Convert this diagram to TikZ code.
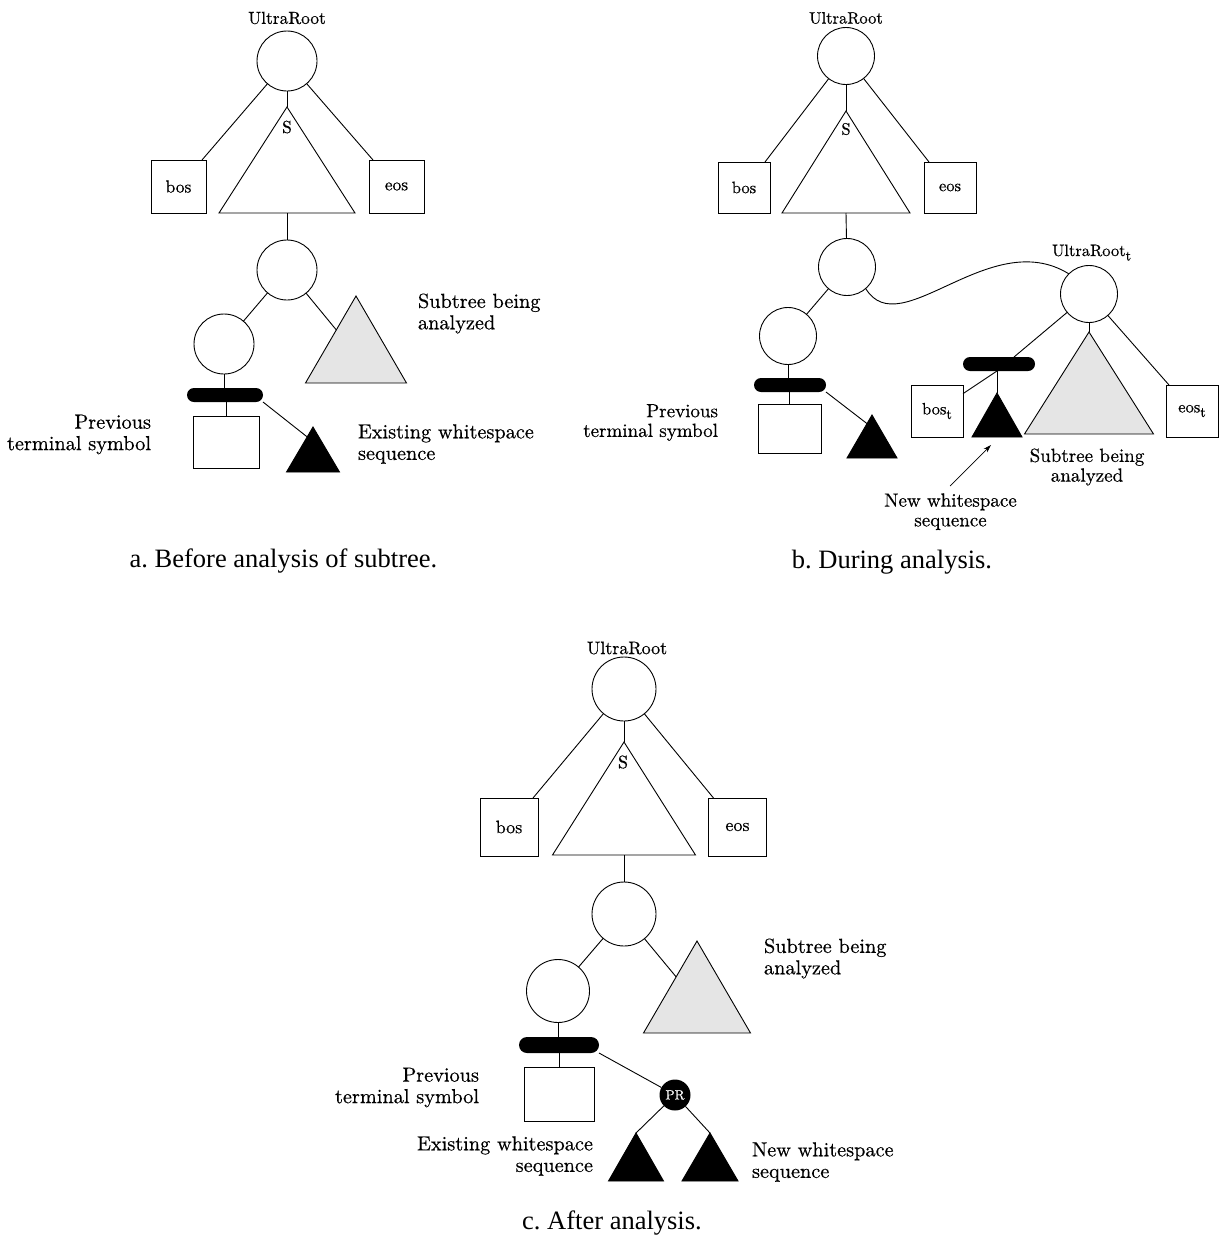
\documentclass[tikz,border=0pt]{standalone}
\usepackage{fontspec}
\newfontfamily\capfont{Liberation Serif}
\newfontfamily\lblfont{lmroman10-regular}[Extension=.otf,FakeBold=0.5]
\usetikzlibrary{calc,arrows.meta}

% triangle with named apex (-a), base corners (-l, -r) and base centre (-b)
\newcommand{\drawtri}[6]{%
  \coordinate (#1-a) at (#2,#3);
  \coordinate (#1-l) at ($(#1-a)+(-#4,#5)$);
  \coordinate (#1-r) at ($(#1-a)+(#4,#5)$);
  \coordinate (#1-b) at ($(#1-l)!.5!(#1-r)$);
  \draw[#6] (#1-a) -- (#1-l) -- (#1-r) -- cycle;}
% lowered subscript t in the label font
\newcommand{\subt}{\raisebox{-4.5pt}{\fontsize{14}{14}\selectfont t}}

\definecolor{subgray}{HTML}{E5E5E5}

\begin{document}
\begin{tikzpicture}[x=1pt,y=-1pt,line width=0.9pt,
  every node/.style={inner sep=0pt,outer sep=0pt},
  vtx/.style={circle,draw,minimum size=#1},
  termbox/.style args={#1x#2}{rectangle,draw,minimum width=#1,minimum height=#2},
  wsbar/.style args={#1x#2}{rectangle,fill=black,minimum width=#1,minimum height=#2,rounded corners=#2/2},
  lblA/.style={font=\lblfont\fontsize{20.3}{21.5}\selectfont},
  lblB/.style={font=\lblfont\fontsize{19}{19.7}\selectfont},
  smA/.style={font=\lblfont\fontsize{17.4}{18}\selectfont},
  smB/.style={font=\lblfont\fontsize{16.5}{17}\selectfont},
  smC/.style={font=\lblfont\fontsize{18}{18.5}\selectfont},
  capt/.style={font=\capfont\fontsize{26.5}{28}\selectfont},
  prnode/.style={circle,fill=black,minimum size=31pt,text=white,font=\lblfont\fontsize{13.5}{13.5}\selectfont}]

\useasboundingbox (0,0) rectangle (1222,1237);

% ---------------- a. before analysis ----------------
\node[vtx=60pt] (a-root) at (287,61) {};
\node[smA] (a-ur) at (287,18) {UltraRoot};
\drawtri{a-s}{287}{107}{68}{106}{}
\node[smA] (a-slab) at (287,127) {S};
\node[termbox=55ptx53pt,smA] (a-bos) at (178.5,186.5) {bos};
\node[termbox=55ptx53pt,smA] (a-eos) at (396.5,186.5) {eos};
\node[vtx=60pt] (a-n1) at (287,270) {};
\node[vtx=60pt] (a-n2) at (224,344) {};
\drawtri{a-sub}{356}{296}{50.5}{87}{fill=subgray}
\node[wsbar=76ptx14pt] (a-bar) at (225,395) {};
\node[termbox=66ptx52pt] (a-prev) at (226,442) {};
\drawtri{a-ws}{313}{427}{26.5}{45}{fill=black}

\draw (a-root) -- (a-s-a);
\draw (a-root) -- ($(a-bos.north east)+(-4,0)$);
\draw (a-root) -- ($(a-eos.north west)+(4,0)$);
\draw (a-s-b) -- (a-n1);
\draw (a-n1) -- (a-n2);
\draw (a-n1) -- ($(a-sub-a)!.39!(a-sub-l)$);
\draw (a-n2) -- (a-n2 |- a-bar.north);
\draw (a-bar.south -| a-prev) -- (a-prev);
\draw (a-bar.south east) -- ($(a-ws-a)!.22!(a-ws-l)$);

\node[lblA,anchor=west,align=left] (a-sublab) at (418,313.5) {Subtree being\\analyzed};
\node[lblA,anchor=west,align=left] (a-wslab) at (358,444) {Existing whitespace\\sequence};
\node[lblA,anchor=east,align=right] (a-prevlab) at (151,434.5) {Previous\\terminal symbol};
\node[capt] (a-cap) at (283.5,561) {a.\ Before analysis of subtree.};

% ---------------- b. during analysis ----------------
\node[vtx=57pt] (b-root) at (846,56) {};
\node[smB] (b-ur) at (846,18) {UltraRoot};
\drawtri{b-s}{846}{111}{64}{102}{}
\node[smB] (b-slab) at (846,129) {S};
\node[termbox=52ptx51pt,smB] (b-bos) at (744,187.5) {bos};
\node[termbox=52ptx51pt,smB] (b-eos) at (950,187.5) {eos};
\node[vtx=57pt] (b-n1) at (847,267) {};
\node[vtx=57pt] (b-n2) at (788,336) {};
\node[wsbar=72ptx14pt] (b-bar) at (790,385) {};
\node[termbox=63ptx49pt] (b-prev) at (789.5,428.5) {};
\drawtri{b-ws}{872}{415}{25}{43}{fill=black}

\draw (b-root) -- (b-s-a);
\draw (b-root) -- ($(b-bos.north east)+(-5,0)$);
\draw (b-root) -- ($(b-eos.north west)+(5,0)$);
\draw (b-s-b) -- (b-n1);
\draw (b-n1) -- (b-n2);
\draw (b-n2) -- (b-n2 |- b-bar.north);
\draw (b-bar.south -| b-prev) -- (b-prev);
\draw (b-bar.south east) -- ($(b-ws-a)!.2!(b-ws-l)$);

% separate tree being analysed
\node[vtx=57pt] (b-urt) at (1089,294) {};
\node[smB,anchor=base west] (b-urtlab) at (1052,256) {UltraRoot\subt};
\node[termbox=52ptx52pt,smB] (b-bost) at (937,411) {bos\subt};
\node[termbox=52ptx52pt,smB] (b-eost) at (1192,411) {eos\subt};
\drawtri{b-sub}{1089}{332}{64.5}{102}{fill=subgray}
\node[wsbar=72ptx14pt] (b-bart) at (999,364) {};
\drawtri{b-nws}{997}{393}{25}{44}{fill=black}

\draw (b-n1.-49) .. controls (900,345) and (990,225) .. (b-urt.135);
\draw (b-urt) -- (b-sub-a);
\draw (b-urt) -- ($(b-bart.north)+(15,0)$);
\draw (b-urt) -- ($(b-eost.north west)+(3,0)$);
\draw (b-nws-a) -- (b-nws-a |- b-bart.south);
\draw (b-nws-a |- b-bart.south) -- (b-bost);

\node[lblB,anchor=east,align=right] (b-prevlab) at (718,422.5) {Previous\\terminal symbol};
\node[lblB,align=center] (b-sublab) at (1087,467) {Subtree being\\analyzed};
\node[lblB,align=center] (b-nwslab) at (950.5,511.7) {New whitespace\\sequence};
\coordinate (b-arrtail) at (950,486);
\coordinate (b-arrtip) at (991,445);
\draw[-{Stealth[length=8pt,width=5pt]},line width=0.7pt] (b-arrtail) -- (b-arrtip);
\node[capt] (b-cap) at (892,562) {b.\ During analysis.};

% ---------------- c. after analysis ----------------
\node[vtx=64pt] (c-root) at (624,689) {};
\node[smC] (c-ur) at (627,648) {UltraRoot};
\drawtri{c-s}{624}{742}{71.5}{113}{}
\node[smC] (c-slab) at (623,762) {S};
\node[termbox=58ptx58pt,smC] (c-bos) at (509,827) {bos};
\node[termbox=58ptx58pt,smC] (c-eos) at (737.5,827) {eos};
\node[vtx=64pt] (c-n1) at (624,914) {};
\node[vtx=63pt] (c-n2) at (558,991) {};
\drawtri{c-sub}{697}{941}{53.5}{92}{fill=subgray}
\node[wsbar=80ptx16pt] (c-bar) at (559,1045) {};
\node[termbox=70ptx54pt] (c-prev) at (559,1094) {};
\node[prnode] (c-pr) at (675,1095) {PR};
\drawtri{c-old}{636}{1133}{27.5}{48}{fill=black}
\drawtri{c-new}{710}{1133}{28}{48}{fill=black}

\draw (c-root) -- (c-s-a);
\draw (c-root) -- ($(c-bos.north east)+(-5,0)$);
\draw (c-root) -- ($(c-eos.north west)+(5,0)$);
\draw (c-s-b) -- (c-n1);
\draw (c-n1) -- (c-n2);
\draw (c-n1) -- ($(c-sub-a)!.39!(c-sub-l)$);
\draw (c-n2) -- (c-n2 |- c-bar.north);
\draw (c-bar.south -| c-prev) -- (c-prev);
\draw (c-bar.south east) -- (c-pr);
\draw (c-pr) -- (c-old-a);
\draw (c-pr) -- (c-new-a);

\node[lblA,anchor=west,align=left] (c-sublab) at (764,958.5) {Subtree being\\analyzed};
\node[lblA,anchor=east,align=right] (c-prevlab) at (479,1087.5) {Previous\\terminal symbol};
\node[lblA,anchor=east,align=right] (c-oldlab) at (593,1156) {Existing whitespace\\sequence};
\node[lblA,anchor=west,align=left] (c-newlab) at (752,1162) {New whitespace\\sequence};
\node[capt] (c-cap) at (612,1223) {c.\ After analysis.};

\end{tikzpicture}
\end{document}
